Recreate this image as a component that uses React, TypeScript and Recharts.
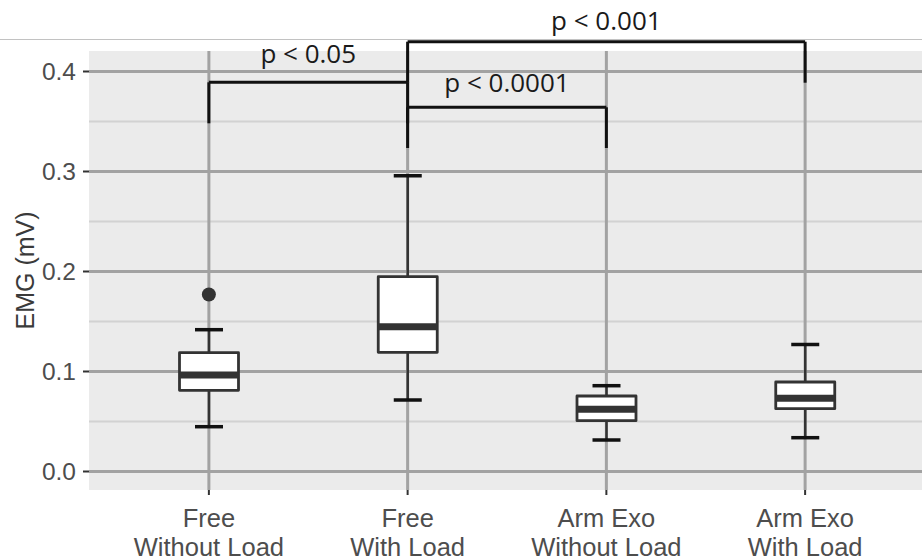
import React from 'react';
import { ComposedChart, Bar, Scatter, XAxis, YAxis, CartesianGrid, ReferenceLine } from 'recharts';

// ---- data ----
const categories = ['Free\nWithout Load', 'Free\nWith Load', 'Arm Exo\nWithout Load', 'Arm Exo\nWith Load'];
const whiskerLow = [0.0448, 0.0715, 0.0315, 0.0338];
const q1 = [0.0812, 0.1192, 0.0508, 0.0628];
const median = [0.0965, 0.1448, 0.0622, 0.0732];
const q3 = [0.1188, 0.1948, 0.0755, 0.0895];
const whiskerHigh = [0.1418, 0.2958, 0.0858, 0.127];
const outlierCategory = [0];
const outlierValue = [0.177];
const yTicks = [0, 0.1, 0.2, 0.3, 0.4];
const yMinorTicks = [0.05, 0.15, 0.25, 0.35];
const yDomain = [-0.0185, 0.4205];

// significance brackets: from/to category index, bar height, tip end, label
const bracketFrom = [0, 1, 1];
const bracketTo = [1, 3, 2];
const bracketY = [0.3892, 0.4298, 0.3642];
const bracketTip = [0.3482, 0.3888, 0.3235];
const bracketLabel = ['p < 0.05', 'p < 0.001', 'p < 0.0001'];
const bracketLabelOffset = [19, 11.7, 15.6];

const data = categories.map((name, i) => ({
  name,
  range: [whiskerLow[i], whiskerHigh[i]],
  lo: whiskerLow[i],
  q1: q1[i],
  median: median[i],
  q3: q3[i],
  hi: whiskerHigh[i],
}));

const outliers = outlierCategory.map((c, i) => ({ name: categories[c], value: outlierValue[i] }));

const AXIS_FONT = '"Liberation Sans", Arial, sans-serif';
const NOTE_FONT = '"Open Sans", "Noto Sans", sans-serif';

const BoxShape = (props: any) => {
  const { x, y, width, height, payload } = props;
  if (!payload || !isFinite(x) || !isFinite(y)) return null;
  const top = Math.min(y, y + height);
  const h = Math.abs(height);
  const { lo, hi } = payload;
  const k = h / (hi - lo);
  const py = (v: number) => top + (hi - v) * k;
  const cx = x + width / 2;
  const cap = 14;
  return (
    <g>
      <line x1={cx} x2={cx} y1={py(hi)} y2={py(payload.q3)} stroke="#333" strokeWidth={2.5} />
      <line x1={cx} x2={cx} y1={py(payload.q1)} y2={py(lo)} stroke="#333" strokeWidth={2.5} />
      <line x1={cx - cap} x2={cx + cap} y1={py(hi)} y2={py(hi)} stroke="#111" strokeWidth={3.5} />
      <line x1={cx - cap} x2={cx + cap} y1={py(lo)} y2={py(lo)} stroke="#111" strokeWidth={3.5} />
      <rect
        x={x}
        y={py(payload.q3)}
        width={width}
        height={py(payload.q1) - py(payload.q3)}
        fill="#fff"
        stroke="#333"
        strokeWidth={2.8}
        strokeLinejoin="round"
      />
      <line x1={x} x2={x + width} y1={py(payload.median)} y2={py(payload.median)} stroke="#333" strokeWidth={7} />
    </g>
  );
};

const XTick = (props: any) => {
  const { x, y, payload } = props;
  const lines = String(payload.value).split('\n');
  return (
    <text x={x} y={y} textAnchor="middle" fontFamily={AXIS_FONT} fontSize={25.5} fill="#4d4d4d">
      {lines.map((l, i) => (
        <tspan key={i} x={x} dy={i === 0 ? 30 : 28.5}>
          {l}
        </tspan>
      ))}
    </text>
  );
};

const YTitle = (props: any) => {
  const vb = props.viewBox || {};
  const cy = vb.y + vb.height / 2;
  const tx = 33.5;
  return (
    <text
      x={tx}
      y={cy}
      transform={`rotate(-90, ${tx}, ${cy})`}
      textAnchor="middle"
      fontFamily={AXIS_FONT}
      fontSize={25}
      fill="#3a3a3a"
    >
      EMG (mV)
    </text>
  );
};

export default function App() {
  return (
    <div style={{ position: 'absolute', left: 0, top: 0, width: 922, height: 560, overflow: 'hidden', background: '#fff' }}>
      <div style={{ position: 'absolute', left: 0, top: 38.5, width: 922, height: 1.6, background: '#c2c2c2' }} />
      <div style={{ position: 'absolute', left: 0, top: 0 }}>
        <ComposedChart width={922} height={560} data={data} margin={{ top: 51, right: 0, bottom: 0, left: 0 }}>
          <CartesianGrid fill="#ebebeb" vertical={false} horizontalValues={yMinorTicks} stroke="#d2d2d2" strokeWidth={2} />
          <CartesianGrid
            fill="none"
            horizontalValues={yTicks}
            verticalValues={categories}
            stroke="#a2a2a2"
            strokeWidth={3}
          />
          <XAxis
            dataKey="name"
            type="category"
            allowDuplicatedCategory={false}
            height={70}
            padding={{ left: 20.5, right: 17.5 }}
            axisLine={false}
            tickLine={{ stroke: '#333', strokeWidth: 2 }}
            tickSize={5}
            tickMargin={2}
            tick={<XTick />}
            interval={0}
          />
          <YAxis
            type="number"
            domain={yDomain}
            allowDataOverflow
            ticks={yTicks}
            tickFormatter={(v: number) => v.toFixed(1)}
            width={89}
            axisLine={false}
            tickLine={{ stroke: '#333', strokeWidth: 2 }}
            tickSize={6}
            tickMargin={7}
            tick={{ fontFamily: AXIS_FONT, fontSize: 24.5, fill: '#4d4d4d' }}
            label={<YTitle />}
          />
          <Bar dataKey="range" barSize={59} shape={<BoxShape />} isAnimationActive={false} />
          <Scatter
            data={outliers}
            dataKey="value"
            isAnimationActive={false}
            shape={(p: any) => <circle cx={p.cx} cy={p.cy} r={7} fill="#333" />}
          />
          {bracketLabel.map((lab, i) => (
            <ReferenceLine
              key={`h${i}`}
              ifOverflow="visible"
              segment={[
                { x: categories[bracketFrom[i]], y: bracketY[i] },
                { x: categories[bracketTo[i]], y: bracketY[i] },
              ]}
              stroke="#111"
              strokeWidth={3}
              label={{
                value: lab,
                position: 'top',
                offset: bracketLabelOffset[i],
                fill: '#1a1a1a',
                fontSize: 26,
                fontFamily: NOTE_FONT,
              }}
            />
          ))}
          {bracketLabel.map((lab, i) => (
            <ReferenceLine
              key={`l${i}`}
              ifOverflow="visible"
              segment={[
                { x: categories[bracketFrom[i]], y: bracketY[i] },
                { x: categories[bracketFrom[i]], y: bracketTip[i] },
              ]}
              stroke="#111"
              strokeWidth={3}
            />
          ))}
          {bracketLabel.map((lab, i) => (
            <ReferenceLine
              key={`r${i}`}
              ifOverflow="visible"
              segment={[
                { x: categories[bracketTo[i]], y: bracketY[i] },
                { x: categories[bracketTo[i]], y: bracketTip[i] },
              ]}
              stroke="#111"
              strokeWidth={3}
            />
          ))}
        </ComposedChart>
      </div>
    </div>
  );
}
